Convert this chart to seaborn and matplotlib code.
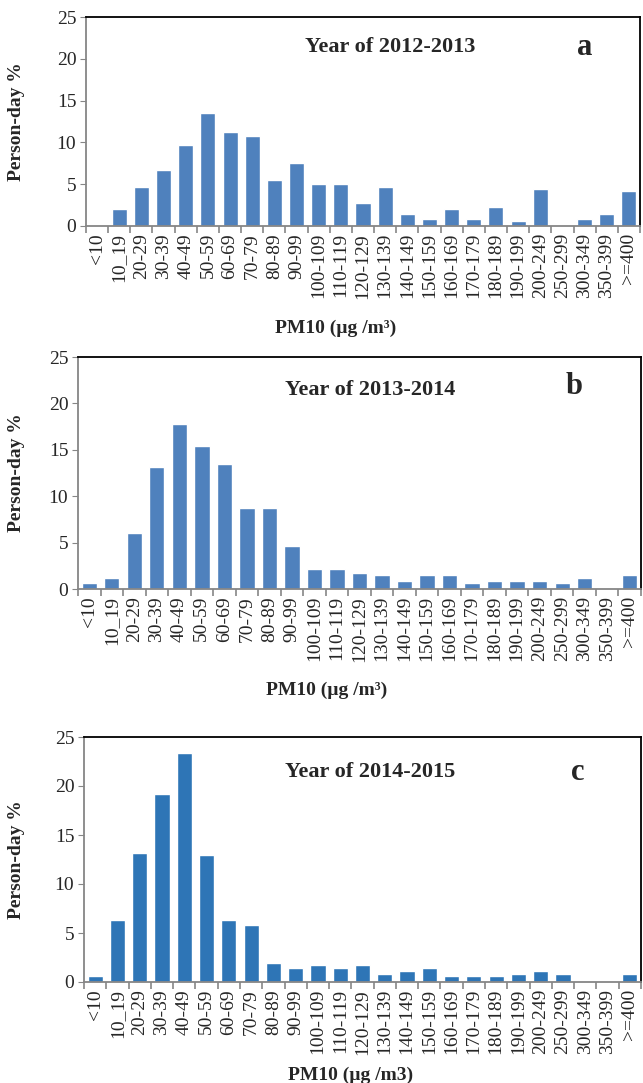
import numpy as np
import seaborn as sns
import matplotlib.pyplot as plt
from matplotlib.ticker import FixedLocator

sns.set_style("white")
plt.rcParams['font.family'] = ['Liberation Serif', 'DejaVu Serif']

cats = ["<10", "10_19", "20-29", "30-39", "40-49", "50-59", "60-69", "70-79",
        "80-89", "90-99", "100-109", "110-119", "120-129", "130-139", "140-149",
        "150-159", "160-169", "170-179", "180-189", "190-199", "200-249",
        "250-299", "300-349", "350-399", ">=400"]

y2012 = [0, 2.0, 4.68, 6.64, 9.64, 13.48, 11.28, 10.76, 5.52, 7.48, 5.0, 5.0,
         2.8, 4.72, 1.44, 0.88, 2.0, 0.88, 2.28, 0.6, 4.44, 0, 0.88, 1.44, 4.16]
y2013 = [0.65, 1.19, 6.08, 13.2, 17.8, 15.36, 13.45, 8.78, 8.78, 4.68, 2.19, 2.19,
         1.73, 1.47, 0.9, 1.47, 1.47, 0.65, 0.9, 0.9, 0.9, 0.65, 1.19, 0, 1.47]
y2014 = [0.58, 6.35, 13.2, 19.2, 23.36, 12.94, 6.35, 5.8, 1.95, 1.43, 1.7, 1.43,
         1.7, 0.85, 1.13, 1.43, 0.58, 0.58, 0.58, 0.85, 1.13, 0.85, 0, 0, 0.85]

titles = ["Year of 2012-2013", "Year of 2013-2014", "Year of 2014-2015"]
letters = ["a", "b", "c"]
xlabels = ["PM10 (µg /m³)", "PM10 (µg /m³)", "PM10 (µg /m3)"]

W, H = 643, 1083
fig = plt.figure(figsize=(W / 100, H / 100), dpi=100)

# axes boxes in pixels: left, right, top, bottom
boxes = [(86, 640, 17, 226), (78, 641, 357, 589), (84, 641, 737, 982)]
colors = ["#4F81BD", "#4F81BD", "#2E75B6"]
title_pos = [(0.549, 0.856), (0.519, 0.858), (0.513, 0.857)]
letter_pos = [(0.90, 0.856), (0.881, 0.872), (0.887, 0.857)]
xlab_pos = [(0.45, -0.45), (0.442, -0.40), (0.479, -0.345)]

for i, vals in enumerate([y2012, y2013, y2014]):
    l, r, t, b = boxes[i]
    ax = fig.add_axes([l / W, 1 - b / H, (r - l) / W, (b - t) / H])
    sns.barplot(x=cats, y=vals, order=cats, color=colors[i], saturation=1,
                width=0.68, ax=ax)
    ax.set_xlim(-0.5, len(cats) - 0.5)
    ax.set_ylim(0, 25)
    ax.set_yticks([0, 5, 10, 15, 20, 25])
    ax.tick_params(axis="y", labelsize=14, length=4, color="#868686",
                   direction="out", pad=3, left=True)
    ax.set_xticks(range(len(cats)))
    ax.set_xticklabels(cats, rotation=90, fontsize=14, va="top", ha="center")
    ax.tick_params(axis="x", which="major", length=0, pad=5)
    ax.xaxis.set_minor_locator(FixedLocator(np.arange(-0.5, len(cats), 1)))
    ax.tick_params(axis="x", which="minor", length=5, color="#868686",
                   width=1.2, bottom=True, direction="out")
    for s in ["left", "bottom"]:
        ax.spines[s].set_color("#868686")
        ax.spines[s].set_linewidth(1.3)
    for s in ["top", "right"]:
        ax.spines[s].set_color("black")
        ax.spines[s].set_linewidth(1.3)
    ax.set_ylabel("Person-day %", fontsize=14, fontweight="bold")
    ax.yaxis.set_label_coords((25 - l) / (r - l), 0.5)
    ax.set_xlabel(xlabels[i], fontsize=14, fontweight="bold")
    ax.xaxis.set_label_coords(*xlab_pos[i])
    ax.text(*title_pos[i], titles[i], transform=ax.transAxes, ha="center",
            va="center", fontsize=16, fontweight="bold")
    ax.text(*letter_pos[i], letters[i], transform=ax.transAxes, ha="center",
            va="center", fontsize=22, fontweight="bold")

fig.savefig("out.png", dpi=100)
